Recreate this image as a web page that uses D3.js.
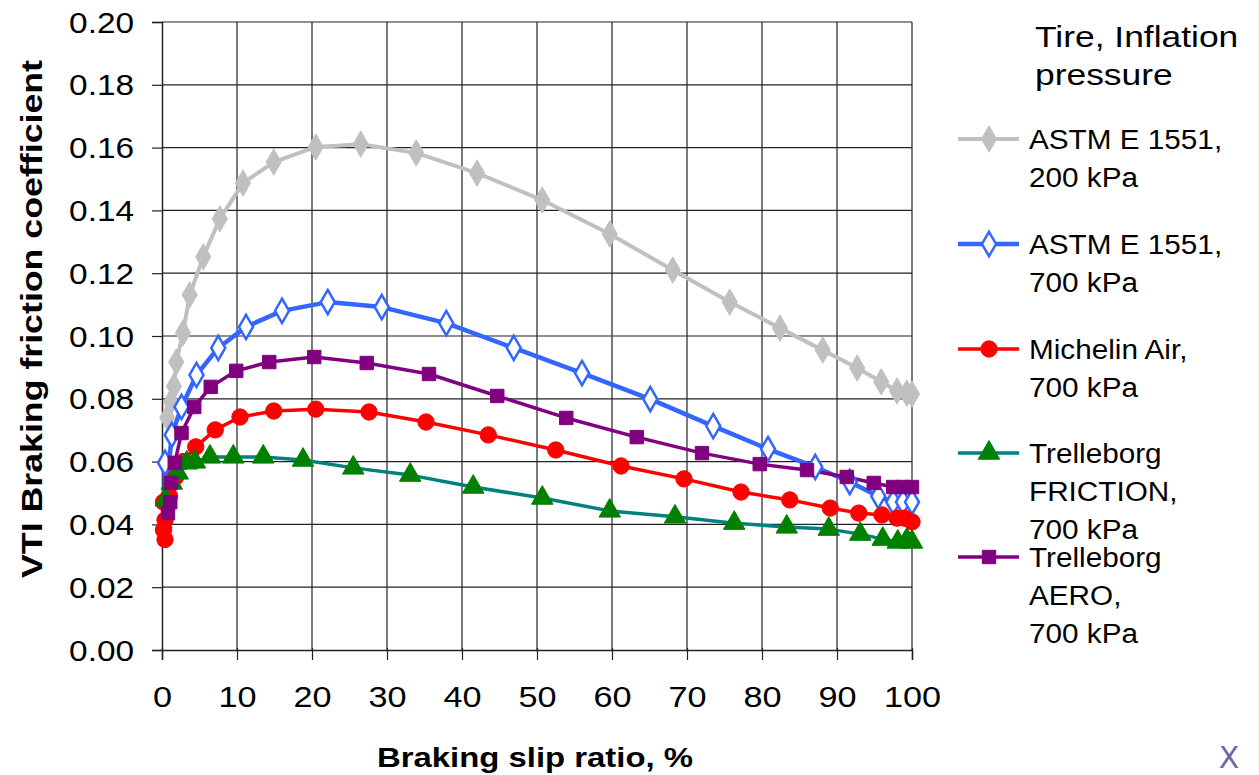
<!DOCTYPE html>
<html>
<head>
<meta charset="utf-8">
<script src="https://cdn.jsdelivr.net/npm/d3@7"></script>
<style>
  body { margin: 0; background: #fff; }
  svg text { font-family: "Liberation Sans", Arial, sans-serif; }
</style>
</head>
<body>
<div id="chart"></div>
<script>
// values: [slip %, friction coefficient]
var astm200 = [[0.7,0.074],[1.2,0.079],[1.6,0.084],[1.9,0.0917],[2.8,0.101],[3.7,0.1131],[5.5,0.1252],[7.7,0.1373],[10.8,0.1487],[14.9,0.1554],[20.5,0.1602],[26.5,0.1611],[33.9,0.1583],[42.0,0.1519],[50.7,0.1433],[59.7,0.1325],[68.1,0.121],[75.7,0.1108],[82.4,0.1025],[88.1,0.0955],[92.7,0.0898],[95.9,0.0854],[98.0,0.0825],[99.3,0.0818],[100,0.0815]];
var astm700 = [[0.3,0.039],[0.5,0.048],[0.4,0.0596],[1.3,0.0685],[2.6,0.0774],[4.6,0.0876],[7.5,0.0962],[11.2,0.1029],[16.0,0.108],[22.1,0.1108],[29.3,0.1092],[37.9,0.1041],[46.9,0.0962],[56.0,0.0882],[65.1,0.0799],[73.5,0.0713],[80.8,0.064],[87.1,0.0583],[91.7,0.0535],[95.5,0.049],[97.5,0.0471],[98.8,0.0471],[100,0.0471]];
var michelin = [[0.4,0.0352],[0.2,0.0382],[0.4,0.0414],[0.2,0.0471],[1.0,0.049],[1.8,0.055],[2.8,0.06],[4.5,0.0647],[7.1,0.0701],[10.4,0.0742],[14.9,0.0761],[20.5,0.0767],[27.6,0.0758],[35.2,0.0726],[43.5,0.0685],[52.5,0.0637],[61.2,0.0586],[69.6,0.0545],[77.2,0.0503],[83.7,0.0478],[89.1,0.0452],[92.9,0.0436],[96.0,0.043],[98.0,0.042],[99.0,0.042],[100,0.0408]];
var trelFriction = [[0.5,0.0478],[1.3,0.0532],[2.1,0.0564],[3.3,0.0596],[4.4,0.0599],[6.4,0.0615],[9.5,0.0615],[13.5,0.0615],[18.8,0.0605],[25.5,0.058],[33.1,0.0557],[41.5,0.0519],[50.7,0.0484],[59.7,0.0443],[68.4,0.0424],[76.3,0.0404],[83.3,0.0392],[88.9,0.0385],[93.1,0.0369],[96.1,0.0353],[98.1,0.0344],[99.3,0.035],[100,0.0344]];
var trelAero = [[0.8,0.0436],[1.1,0.0471],[1.2,0.0532],[1.7,0.0596],[2.6,0.0691],[4.3,0.0774],[6.5,0.0838],[9.9,0.0889],[14.3,0.0917],[20.3,0.0933],[27.3,0.0914],[35.6,0.0879],[44.7,0.0809],[53.9,0.0739],[63.3,0.0678],[72.0,0.0627],[79.7,0.0592],[86.0,0.0573],[91.3,0.0551],[94.9,0.0532],[97.5,0.0519],[98.8,0.0519],[100,0.0519]];

var xTicks = [0,10,20,30,40,50,60,70,80,90,100];
var yTicks = [0,0.02,0.04,0.06,0.08,0.10,0.12,0.14,0.16,0.18,0.20];

var series = [
  {name: ["ASTM E 1551,", "200 kPa"], data: astm200, line: "#c0c0c0", fill: "#c0c0c0", stroke: "#c0c0c0", shape: d3.symbolDiamond, size: 200, width: 4, ly: 139},
  {name: ["ASTM E 1551,", "700 kPa"], data: astm700, line: "#3366ff", fill: "#fff", stroke: "#3366ff", shape: d3.symbolDiamond, size: 170, width: 4.5, ly: 244},
  {name: ["Michelin Air,", "700 kPa"], data: michelin, line: "#ff0000", fill: "#ff0000", stroke: "#ff0000", shape: d3.symbolCircle, size: 210, width: 3.5, ly: 349},
  {name: ["Trelleborg", "FRICTION,", "700 kPa"], data: trelFriction, line: "#008080", fill: "#008000", stroke: "#008000", shape: d3.symbolTriangle, size: 200, width: 3.5, ly: 453},
  {name: ["Trelleborg", "AERO,", "700 kPa"], data: trelAero, line: "#800080", fill: "#800080", stroke: "#800080", shape: d3.symbolSquare, size: 180, width: 3.5, ly: 557}
];

var W = 1259, H = 775;
var margin = {left: 162, top: 22, right: 347, bottom: 125};

// the source text is drawn a bit wider than the installed fonts
function stretch(sel, k) {
    sel.each(function () {
        var w = this.getComputedTextLength();
        d3.select(this).attr("textLength", w * k).attr("lengthAdjust", "spacingAndGlyphs");
    });
}

var svg = d3.select("#chart").append("svg")
    .attr("width", W)
    .attr("height", H);

var x = d3.scaleLinear().domain([0, 100]).range([margin.left, W - margin.right]);
var y = d3.scaleLinear().domain([0, 0.2]).range([H - margin.bottom, margin.top]);

// grid
svg.append("g")
    .selectAll("line.v")
    .data(xTicks.slice(1))
    .enter().append("line")
    .attr("x1", function (d) { return x(d); })
    .attr("x2", function (d) { return x(d); })
    .attr("y1", y(0)).attr("y2", y(0.2))
    .attr("stroke", "#222").attr("stroke-width", 1.2);

svg.append("g")
    .selectAll("line.h")
    .data(yTicks.slice(1))
    .enter().append("line")
    .attr("x1", x(0)).attr("x2", x(100))
    .attr("y1", function (d) { return y(d); })
    .attr("y2", function (d) { return y(d); })
    .attr("stroke", "#222").attr("stroke-width", 1.2);

// axes
var xAxis = svg.append("g")
    .attr("transform", "translate(0," + y(0) + ")")
    .call(d3.axisBottom(x).tickValues(xTicks).tickSize(10).tickFormat(d3.format("d")));
var yAxis = svg.append("g")
    .attr("transform", "translate(" + x(0) + ",0)")
    .call(d3.axisLeft(y).tickValues(yTicks).tickSize(10).tickFormat(d3.format(".2f")));

[xAxis, yAxis].forEach(function (a) {
    a.select(".domain").attr("stroke", "#222").attr("stroke-width", 1.5);
    a.selectAll(".tick line").attr("stroke", "#222").attr("stroke-width", 1.2);
    a.selectAll(".tick text").attr("fill", "#000").style("font-size", "29px");
});
xAxis.selectAll(".tick line").attr("y1", -2).attr("y2", 10);
xAxis.selectAll(".tick text").attr("dy", "0.71em").attr("y", 36);
yAxis.selectAll(".tick text").attr("x", -28).attr("dy", "0.35em");
stretch(xAxis.selectAll(".tick text"), 1.18);
stretch(yAxis.selectAll(".tick text"), 1.15);

// axis titles
svg.append("text")
    .attr("x", 535).attr("y", 767)
    .attr("text-anchor", "middle")
    .style("font-size", "28px").style("font-weight", "bold")
    .text("Braking slip ratio, %")
    .call(function (t) { t.attr("textLength", 316).attr("lengthAdjust", "spacingAndGlyphs"); });

svg.append("text")
    .attr("transform", "translate(42,319) rotate(-90)")
    .attr("text-anchor", "middle")
    .style("font-size", "29px").style("font-weight", "bold")
    .text("VTI Braking friction coefficient")
    .call(function (t) { t.attr("textLength", 518).attr("lengthAdjust", "spacingAndGlyphs"); });

// lines and markers
var line = d3.line()
    .x(function (d) { return x(d[0]); })
    .y(function (d) { return y(d[1]); });

series.forEach(function (s) {
    svg.append("path")
        .datum(s.data.slice().sort(function (a, b) { return a[0] - b[0]; }))
        .attr("fill", "none")
        .attr("stroke", s.line)
        .attr("stroke-width", s.width)
        .attr("stroke-linejoin", "round")
        .attr("d", line);
});

series.forEach(function (s) {
    var sym = d3.symbol().type(s.shape).size(s.size);
    svg.append("g")
        .selectAll("path")
        .data(s.data)
        .enter().append("path")
        .attr("transform", function (d) { return "translate(" + x(d[0]) + "," + y(d[1]) + ")"; })
        .attr("d", sym)
        .attr("fill", s.fill)
        .attr("stroke", s.stroke)
        .attr("stroke-width", s.fill === "#fff" ? 2.5 : 1);
});

// legend
var title = svg.append("g")
    .style("font-family", "'DejaVu Sans', Verdana, sans-serif")
    .style("font-size", "30px");
title.append("text").attr("x", 1035).attr("y", 47).text("Tire, Inflation");
title.append("text").attr("x", 1035).attr("y", 85).text("pressure");
stretch(title.selectAll("text"), 1.18);

series.forEach(function (s) {
    var g = svg.append("g");
    g.append("line")
        .attr("x1", 958).attr("x2", 1019)
        .attr("y1", s.ly).attr("y2", s.ly)
        .attr("stroke", s.line).attr("stroke-width", s.width);
    g.append("path")
        .attr("transform", "translate(989," + s.ly + ")")
        .attr("d", d3.symbol().type(s.shape).size(s.size)())
        .attr("fill", s.fill)
        .attr("stroke", s.stroke)
        .attr("stroke-width", s.fill === "#fff" ? 2.5 : 1);
    s.name.forEach(function (t, i) {
        g.append("text")
            .attr("x", 1029).attr("y", s.ly + 10 + i * 38)
            .style("font-size", "27px")
            .text(t);
    });
    stretch(g.selectAll("text"), 1.1);
});

svg.append("text")
    .attr("x", 1229).attr("y", 768)
    .attr("text-anchor", "middle")
    .style("font-family", "'DejaVu Sans', Verdana, sans-serif")
    .style("font-size", "30px")
    .attr("fill", "#6b67a8")
    .text("X");
</script>
</body>
</html>
